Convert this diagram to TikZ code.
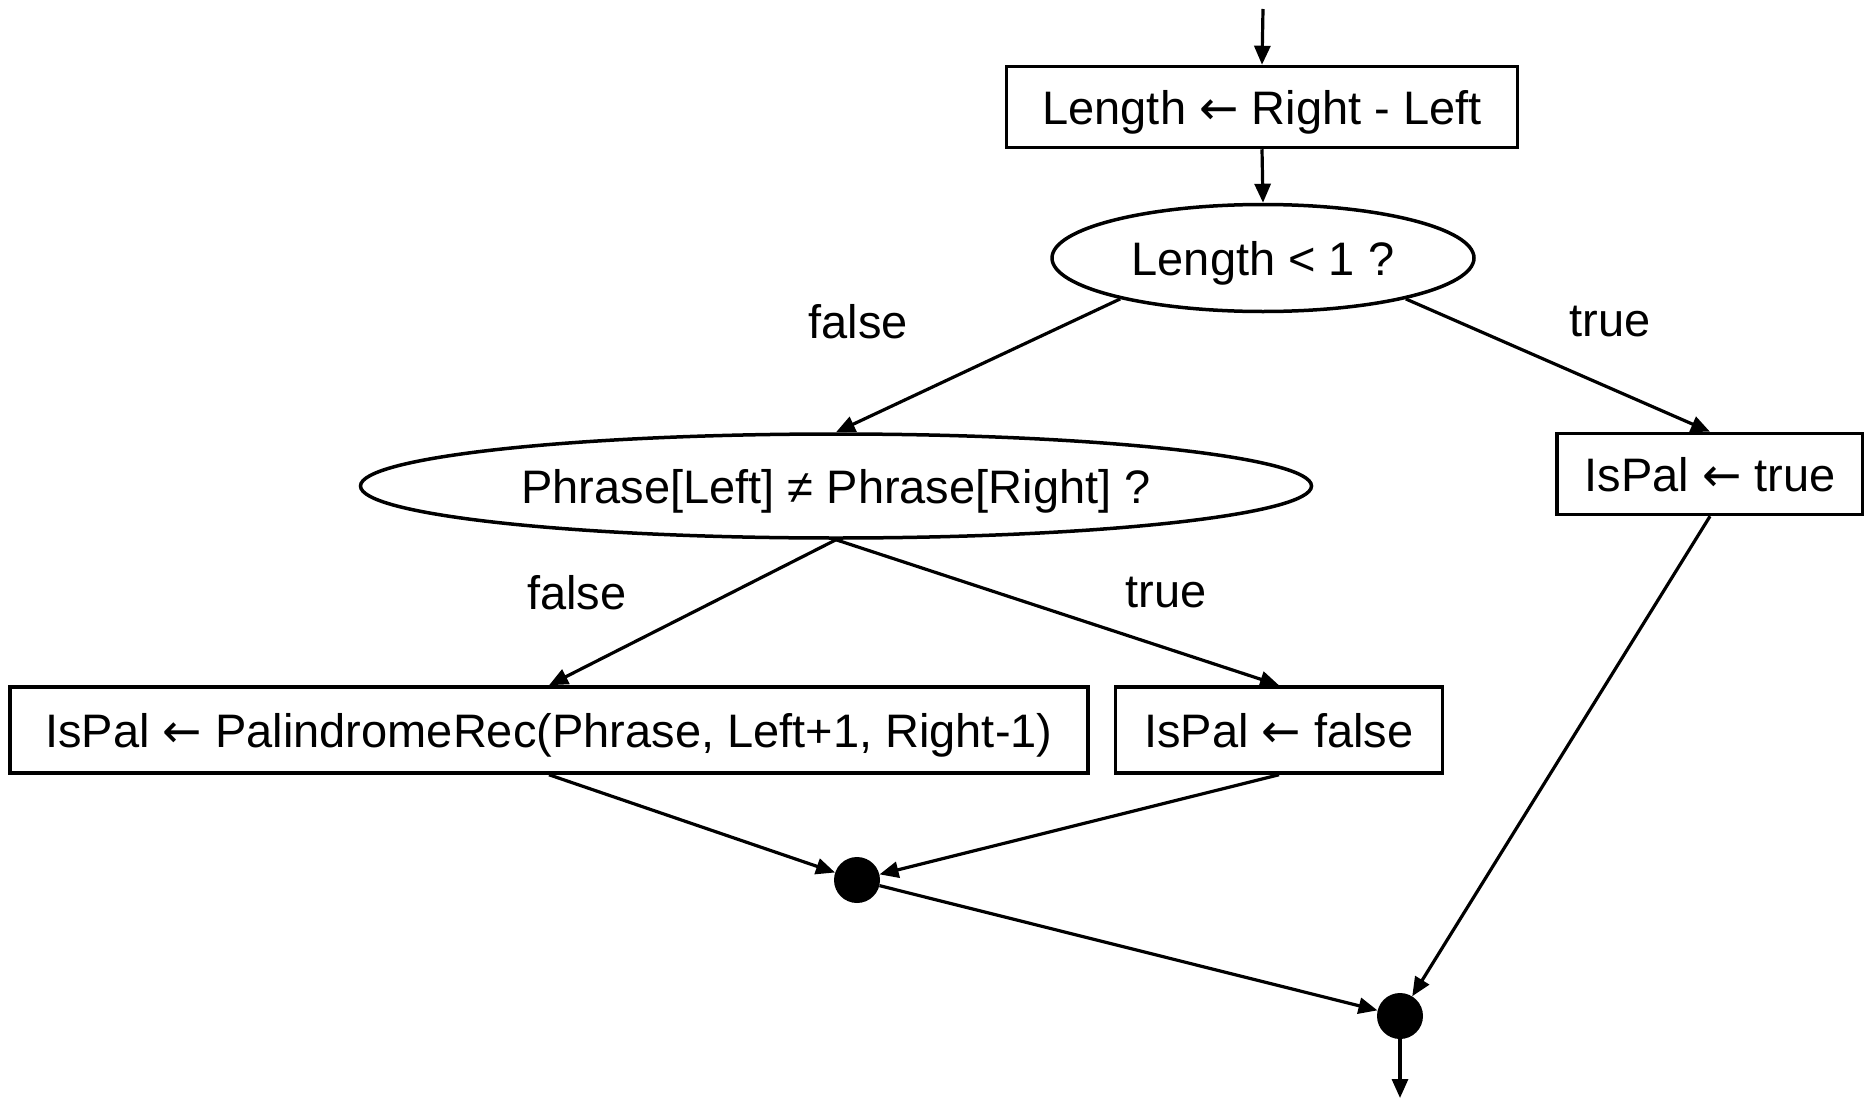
\documentclass[tikz,border=0pt]{standalone}
\usepackage{fontspec}
\setmainfont{Liberation Sans}
\newfontfamily\arrowfont{DejaVu Sans}
\newcommand{\getsarrow}{{\arrowfont ←}}
\usetikzlibrary{shapes.geometric,arrows.meta}

\begin{document}
\begin{tikzpicture}[yscale=-1
,font=\fontsize{47pt}{56pt}\selectfont
,pbox/.style={draw,line width=3.5pt,rectangle,inner sep=0pt,minimum height=81pt,text height=35pt,text depth=0pt}
,pdec/.style={draw,line width=3.5pt,ellipse,inner sep=0pt,text height=35pt,text depth=0pt}
,pdot/.style={fill=black,circle,inner sep=0pt,minimum size=46pt}
,pline/.style={line width=3.2pt,-{Triangle[length=19pt,width=16pt]}}
,plabel/.style={inner sep=0pt}
]
\useasboundingbox (0pt,0pt) rectangle (1864pt,1100pt);
\coordinate (pIn) at (1263pt,9pt);
\coordinate (pOut) at (1400pt,1098pt);
\node[pbox,minimum width=511pt] (nLen) at (1262pt,107pt) {Length \getsarrow{} Right - Left};
\node[pdec,minimum width=422pt,minimum height=107pt] (nTestLen) at (1263pt,258pt) {Length < 1 ?};
\node[pdec,minimum width=951pt,minimum height=104pt] (nTestChr) at (836pt,486pt) {Phrase[Left] ≠ Phrase[Right] ?};
\node[pbox,minimum width=306pt] (nTrue) at (1710pt,474pt) {IsPal \getsarrow{} true};
\node[pbox,minimum width=1078pt,minimum height=86pt] (nRec) at (549pt,730pt) {IsPal \getsarrow{} PalindromeRec(Phrase, Left+1, Right-1)};
\node[pbox,minimum width=327pt,minimum height=86pt] (nFalse) at (1279pt,730pt) {IsPal \getsarrow{} false};
\node[pdot] (nJoinA) at (857pt,880pt) {};
\node[pdot] (nJoinB) at (1400pt,1016pt) {};
\node[plabel] (lFalseA) at (858pt,322pt) {false};
\node[plabel] (lTrueA) at (1610pt,322pt) {true};
\node[plabel] (lFalseB) at (577pt,593pt) {false};
\node[plabel] (lTrueB) at (1166pt,593pt) {true};
\draw[pline] (pIn) -- (nLen.north);
\draw[pline] (nLen.south) -- (nTestLen.north);
\draw[pline] (nTestLen.196) -- (nTestChr.north);
\draw[pline] (nTestLen.344) -- (nTrue.north);
\draw[pline] (nTestChr.south) -- (nRec.north);
\draw[pline] (nTestChr.south) -- (nFalse.north);
\draw[pline] (nRec.south) -- (nJoinA);
\draw[pline] (nFalse.south) -- (nJoinA);
\draw[pline] (nJoinA) -- (nJoinB);
\draw[pline] (nTrue.south) -- (nJoinB);
\draw[pline] (nJoinB) -- (pOut);
\end{tikzpicture}
\end{document}
